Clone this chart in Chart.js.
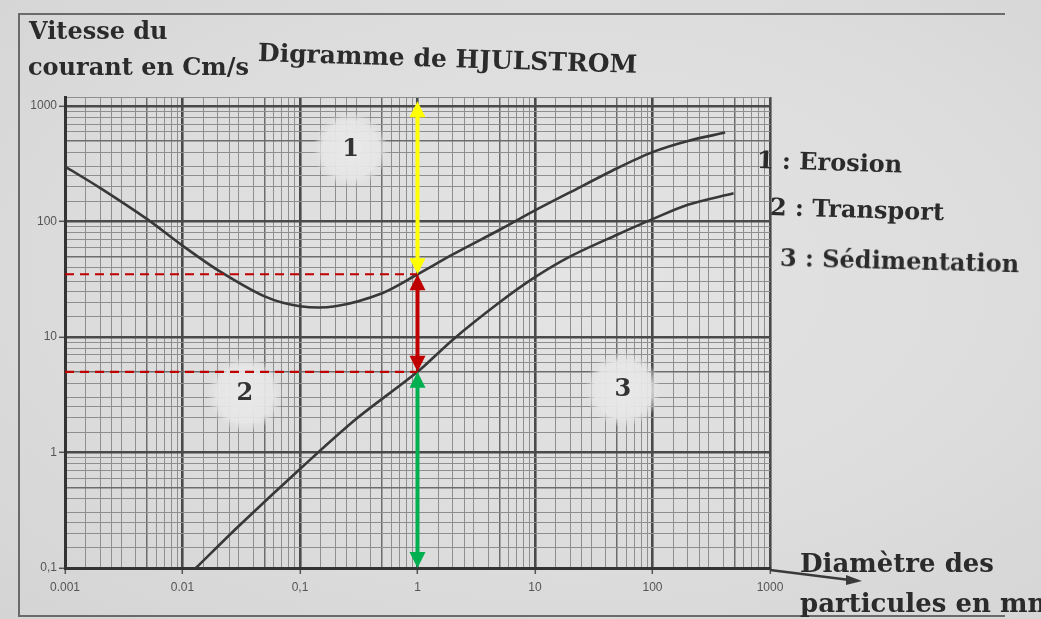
<!DOCTYPE html>
<html>
<head>
<meta charset="utf-8">
<title>Digramme de HJULSTROM</title>
<script src="https://cdn.jsdelivr.net/npm/chart.js@4/dist/chart.umd.min.js"></script>
<style>
  body { margin: 0; background: #dcdcdc; }
  #wrap { position: relative; width: 1041px; height: 619px; overflow: hidden;
          background: radial-gradient(ellipse at 55% 45%, #e4e4e4 0%, #dcdcdc 60%, #d4d4d4 100%); }
  #c { position: absolute; left: 0; top: 0; }
  .frame { position: absolute; left: 18px; top: 13px; width: 985px; height: 600px;
           border-left: 2px solid #6a6a6a; border-top: 2px solid #6a6a6a; border-bottom: 2px solid #6a6a6a; }
  .t { position: absolute; font-family: "DejaVu Serif", serif; font-weight: bold; color: #2b2b2b;
       line-height: 1; white-space: nowrap; transform-origin: 0 50%; }
</style>
</head>
<body>
<div id="wrap">
  <div class="frame"></div>
  <canvas id="c" width="1041" height="619"></canvas>
  <div class="t" style="left:29px;top:19px;font-size:24px;">Vitesse du</div>
  <div class="t" style="left:28px;top:55px;font-size:24px;">courant en Cm/s</div>
  <div class="t" style="left:258px;top:40px;font-size:25px;transform:rotate(1.8deg);">Digramme de HJULSTROM</div>
  <div class="t" style="left:757px;top:148px;font-size:24px;transform:rotate(1.8deg);">1 : Erosion</div>
  <div class="t" style="left:770px;top:195px;font-size:24px;transform:rotate(1.7deg);">2 : Transport</div>
  <div class="t" style="left:780px;top:246px;font-size:24px;transform:rotate(1.5deg);">3 : Sédimentation</div>
  <div class="t" style="left:800px;top:550px;font-size:26px;">Diamètre des</div>
  <div class="t" style="left:800px;top:590px;font-size:26px;">particules en mm</div>
</div>
<script>
// courbe 1 : limite érosion / transport (diamètre mm, vitesse cm/s)
const erosionX = [0.001, 0.002, 0.005, 0.01, 0.02, 0.05, 0.1, 0.2, 0.5, 1, 2, 5, 10, 20, 50, 100, 200, 415];
const erosionY = [300, 195, 105, 62, 38, 22.5, 18.5, 18.5, 24, 35, 52, 85, 125, 180, 290, 400, 500, 590];

// courbe 2 : limite transport / sédimentation
const sedimX = [0.013, 0.03, 0.1, 0.3, 1, 2, 5, 10, 20, 50, 100, 200, 490];
const sedimY = [0.1, 0.23, 0.72, 1.95, 5, 9.5, 20, 33, 50, 77, 105, 140, 176];

// étiquettes des axes
const xTickValues = [0.001, 0.01, 0.1, 1, 10, 100, 1000];
const xTickLabels = ["0.001", "0.01", "0,1", "1", "10", "100", "1000"];
const yTickValues = [0.1, 1, 10, 100, 1000];
const yTickLabels = ["0,1", "1", "10", "100", "1000"];

// zones 1, 2, 3
const zoneLabels = ["1", "2", "3"];
const zoneX = [0.27, 0.034, 56];
const zoneY = [420, 3.2, 3.5];

// flèches à d = 1 mm : haut, érosion, sédimentation, bas
const markerX = 1;
const markerLevels = [1100, 35, 5, 0.1];

// style
const markerColors = ["#ffff00", "#c00000", "#00b050"];
const gridSteps = [1, 1.5, 2, 2.5, 3, 4, 5, 6, 7, 8, 9];

const isPow = (v, k) => {
  const l = Math.log10(v / k);
  return Math.abs(l - Math.round(l)) < 1e-9;
};

function logTicks(min, max) {
  const out = [];
  for (let e = Math.floor(Math.log10(min)); e <= Math.ceil(Math.log10(max)); e++) {
    const base = Math.pow(10, e);
    gridSteps.forEach((s) => {
      const v = parseFloat((s * base).toPrecision(6));
      if (v >= min * 0.9999 && v <= max * 1.0001) out.push({ value: v, major: s === 1 });
    });
  }
  if (out[out.length - 1].value < max * 0.9999) out.push({ value: max, major: false });
  return out;
}

function labelFor(values, labels) {
  return (v) => {
    const i = values.findIndex((t) => Math.abs(Math.log10(v / t)) < 1e-6);
    return i >= 0 ? labels[i] : "";
  };
}

const gridColor = (ctx) => {
  const v = ctx.tick && ctx.tick.value;
  if (!v) return "#8c8c8c";
  if (isPow(v, 1)) return "#4a4a4a";
  if (isPow(v, 5)) return "#6c6c6c";
  return "#8e8e8e";
};
const gridWidth = (ctx) => {
  const v = ctx.tick && ctx.tick.value;
  if (!v) return 1;
  if (isPow(v, 1)) return 2.6;
  if (isPow(v, 5)) return 1.5;
  return 1;
};
const tickColor = (ctx) => {
  const v = ctx.tick && ctx.tick.value;
  return v && isPow(v, 1) ? "#555" : "rgba(0,0,0,0)";
};

function arrowHead(c, x, y, dir, color) {
  c.fillStyle = color;
  c.beginPath();
  c.moveTo(x, y);
  c.lineTo(x - 8, y - dir * 16);
  c.lineTo(x + 8, y - dir * 16);
  c.closePath();
  c.fill();
}

const decorPlugin = {
  id: "decor",
  beforeDatasetsDraw(chart) {
    const c = chart.ctx;
    const xs = chart.scales.x, ys = chart.scales.y;
    c.save();
    zoneLabels.forEach((lab, i) => {
      const px = xs.getPixelForValue(zoneX[i]);
      const py = ys.getPixelForValue(zoneY[i]);
      const g = c.createRadialGradient(px, py, 4, px, py, 38);
      g.addColorStop(0, "rgba(232,232,232,1)");
      g.addColorStop(0.72, "rgba(230,230,230,0.92)");
      g.addColorStop(1, "rgba(225,225,225,0)");
      c.fillStyle = g;
      c.beginPath();
      c.arc(px, py, 38, 0, Math.PI * 2);
      c.fill();
    });
    c.restore();
  },
  afterDatasetsDraw(chart) {
    const c = chart.ctx;
    const xs = chart.scales.x, ys = chart.scales.y;
    const area = chart.chartArea;
    c.save();

    // numéros des zones
    c.fillStyle = "#333";
    c.font = "bold 24px 'DejaVu Serif', serif";
    c.textAlign = "center";
    c.textBaseline = "middle";
    zoneLabels.forEach((lab, i) => {
      c.fillText(lab, xs.getPixelForValue(zoneX[i]), ys.getPixelForValue(zoneY[i]));
    });

    // flèche de l'axe des x
    const by = area.bottom + 8;
    c.strokeStyle = "#3a3a3a";
    c.lineWidth = 2.5;
    c.beginPath();
    c.moveTo(area.right, area.bottom + 2);
    c.lineTo(area.right + 80, by + 4);
    c.stroke();
    c.fillStyle = "#3a3a3a";
    c.beginPath();
    c.moveTo(area.right + 92, by + 5);
    c.lineTo(area.right + 76, by - 1);
    c.lineTo(area.right + 76, by + 9);
    c.closePath();
    c.fill();

    // pointillés rouges
    const mx = xs.getPixelForValue(markerX);
    c.strokeStyle = "#c00000";
    c.lineWidth = 2.2;
    c.setLineDash([9, 6]);
    [markerLevels[1], markerLevels[2]].forEach((lv) => {
      const py = ys.getPixelForValue(lv);
      c.beginPath();
      c.moveTo(area.left, py);
      c.lineTo(mx, py);
      c.stroke();
    });
    c.setLineDash([]);

    // flèches doubles
    for (let i = 0; i < markerColors.length; i++) {
      const y1 = ys.getPixelForValue(markerLevels[i]);
      const y2 = ys.getPixelForValue(markerLevels[i + 1]);
      c.strokeStyle = markerColors[i];
      c.lineWidth = 4;
      c.beginPath();
      c.moveTo(mx, y1 + 12);
      c.lineTo(mx, y2 - 12);
      c.stroke();
      arrowHead(c, mx, y1, -1, markerColors[i]);
      arrowHead(c, mx, y2, 1, markerColors[i]);
    }
    c.restore();
  },
};

const canvas = document.getElementById("c");
const myChart = new Chart(canvas, {
  type: "line",
  data: {
    datasets: [
      {
        label: "Erosion",
        data: erosionX.map((x, i) => ({ x: x, y: erosionY[i] })),
        borderColor: "#383838",
        borderWidth: 2.6,
        pointRadius: 0,
        tension: 0.3,
        fill: false,
      },
      {
        label: "Sédimentation",
        data: sedimX.map((x, i) => ({ x: x, y: sedimY[i] })),
        borderColor: "#383838",
        borderWidth: 2.6,
        pointRadius: 0,
        tension: 0.3,
        fill: false,
      },
    ],
  },
  options: {
    responsive: false,
    animation: false,
    layout: { padding: { left: 0, right: 271, top: 97, bottom: 0 } },
    plugins: { legend: { display: false }, tooltip: { enabled: false } },
    scales: {
      x: {
        type: "logarithmic",
        min: 0.001,
        max: 1000,
        afterBuildTicks: (scale) => { scale.ticks = logTicks(0.001, 1000); },
        afterFit: (scale) => { scale.height = 51; },
        border: { display: true, color: "#333", width: 3 },
        grid: { color: gridColor, lineWidth: gridWidth, tickColor: tickColor, tickLength: 6, tickWidth: 1.5 },
        ticks: {
          autoSkip: false,
          maxRotation: 0,
          padding: 6,
          color: "#555",
          font: { family: "'Liberation Sans', sans-serif", size: 12 },
          callback: labelFor(xTickValues, xTickLabels),
        },
      },
      y: {
        type: "logarithmic",
        min: 0.1,
        max: 1200,
        afterBuildTicks: (scale) => { scale.ticks = logTicks(0.1, 1200); },
        afterFit: (scale) => { scale.width = 65; },
        border: { display: true, color: "#333", width: 3 },
        grid: { color: gridColor, lineWidth: gridWidth, tickColor: tickColor, tickLength: 6, tickWidth: 1.5 },
        ticks: {
          autoSkip: false,
          padding: 2,
          color: "#555",
          font: { family: "'Liberation Sans', sans-serif", size: 12 },
          callback: labelFor(yTickValues, yTickLabels),
        },
      },
    },
  },
  plugins: [decorPlugin],
});
</script>
</body>
</html>
